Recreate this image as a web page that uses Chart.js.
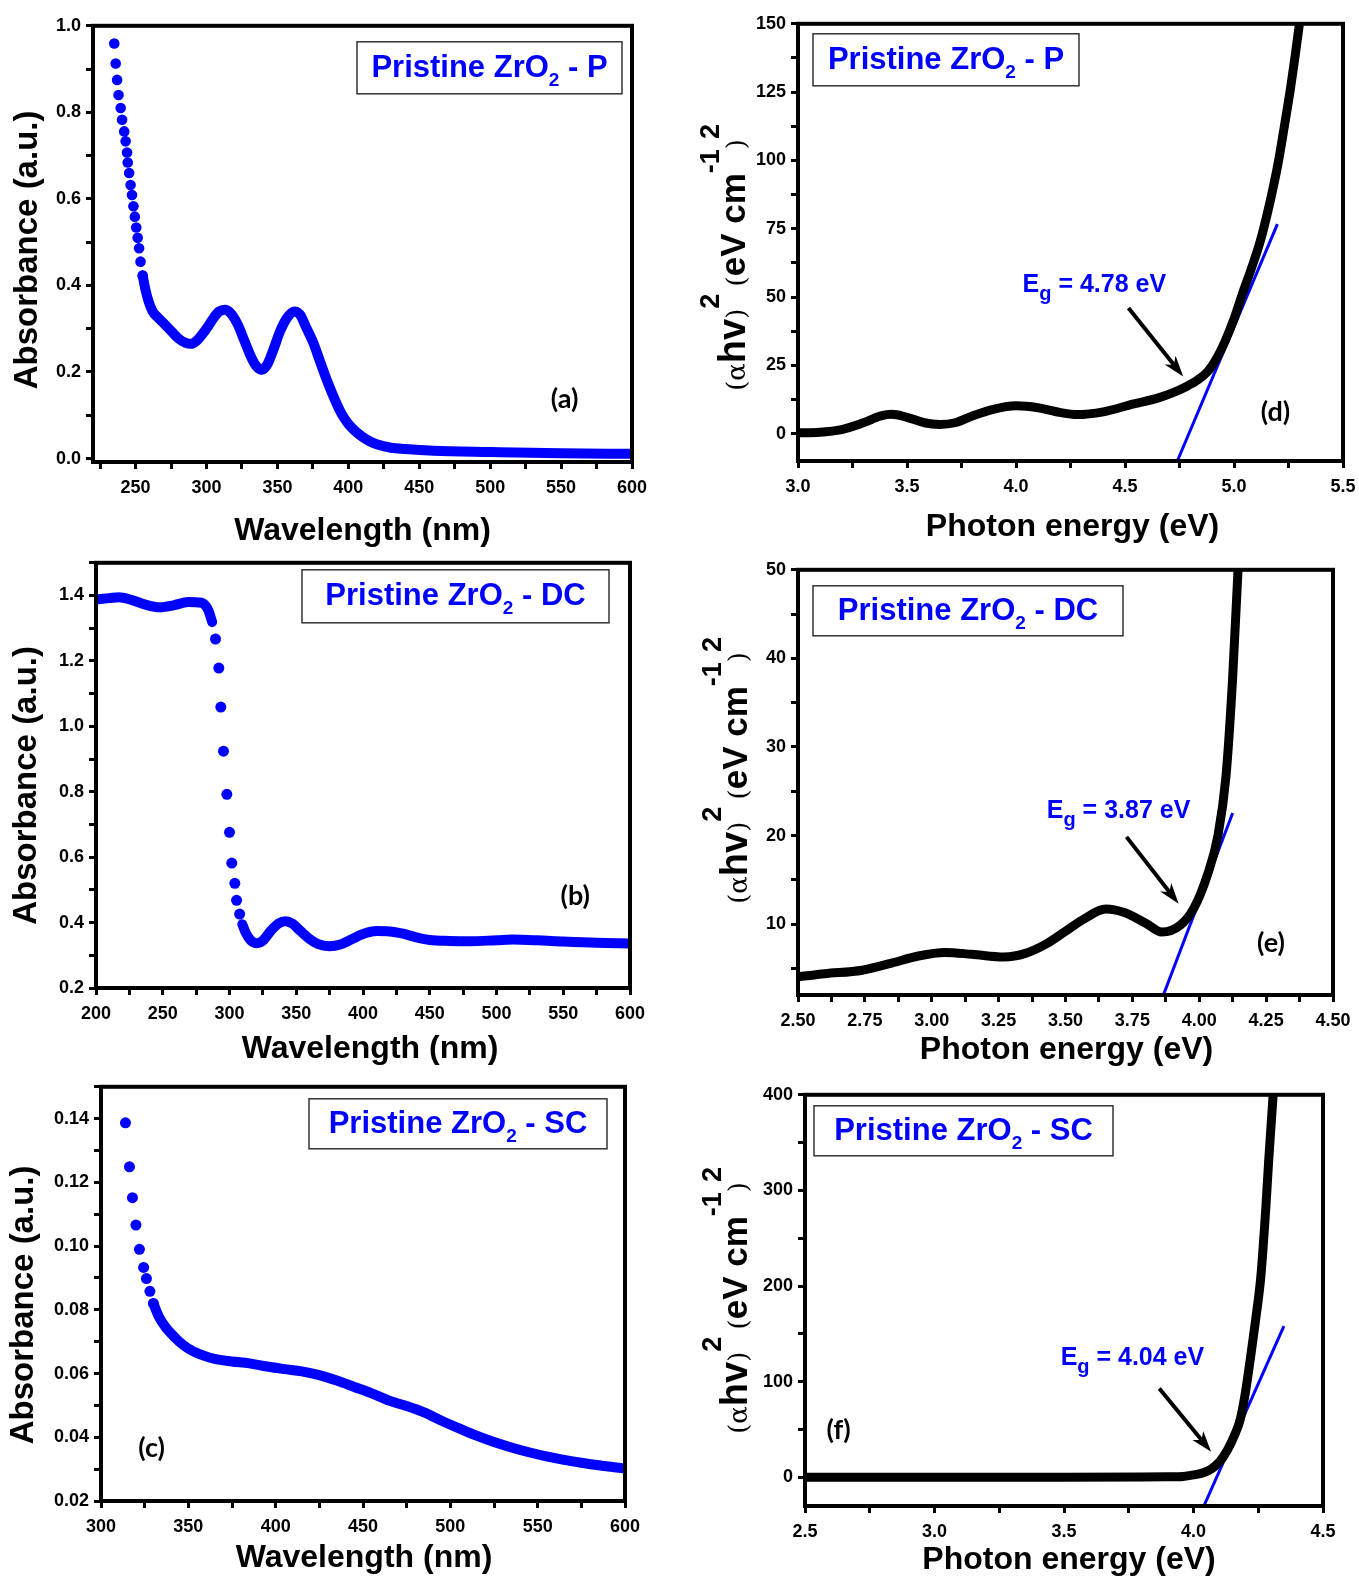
<!DOCTYPE html>
<html>
<head>
<meta charset="utf-8">
<title>Pristine ZrO2 - UV-Vis absorbance and Tauc plots</title>
<script src="https://cdn.jsdelivr.net/npm/chart.js@4.4.1/dist/chart.umd.min.js"></script>
<style>
  html, body { margin: 0; padding: 0; background: #fff; overflow: hidden; }
  body { position: relative; width: 1359px; height: 1579px; }
  canvas { position: absolute; }
</style>
</head>
<body>
<canvas id="cA"></canvas>
<canvas id="cD"></canvas>
<canvas id="cB"></canvas>
<canvas id="cE"></canvas>
<canvas id="cC"></canvas>
<canvas id="cF"></canvas>
<script>
const BLUE = '#0000ff';
const FONT = '"Liberation Sans", Arial, sans-serif';

// ---- (a) P sample, absorbance vs wavelength ----
const wlP_dots  = [235, 236, 237, 238, 239.5, 240.5, 242, 243, 244, 244.5, 245.5, 246.5, 247.5, 248.5, 249.5, 250.5, 251.5, 252.5, 253.5, 255];
const absP_dots = [0.959, 0.913, 0.875, 0.840, 0.810, 0.783, 0.756, 0.733, 0.707, 0.684, 0.660, 0.632, 0.609, 0.583, 0.559, 0.534, 0.510, 0.486, 0.455, 0.423];
const wlP  = [255, 257, 259, 262, 266, 270, 275, 280, 285, 289, 293, 297, 301, 305, 309, 313, 317, 322, 327, 331,
              335, 339, 343, 347, 352, 357, 362, 366, 370, 375, 380, 385, 390, 395, 400, 405, 410, 415, 420, 430,
              440, 460, 500, 550, 600];
const absP = [0.423, 0.390, 0.365, 0.340, 0.325, 0.312, 0.295, 0.278, 0.268, 0.265, 0.272, 0.287, 0.305, 0.325, 0.340, 0.344, 0.336, 0.310, 0.270, 0.238,
              0.214, 0.205, 0.218, 0.250, 0.295, 0.326, 0.340, 0.332, 0.305, 0.270, 0.225, 0.180, 0.140, 0.105, 0.080, 0.063, 0.050, 0.040, 0.033, 0.025,
              0.022, 0.018, 0.015, 0.012, 0.011];

// ---- (b) DC sample ----
const wlDC_top  = [200, 210, 217, 227, 237, 248, 258, 269, 279, 284, 287];
const absDC_top = [1.388, 1.392, 1.395, 1.386, 1.372, 1.364, 1.370, 1.380, 1.378, 1.356, 1.319];
const wlDC_dots  = [289.5, 292, 293.5, 295.5, 298, 300, 301.7, 304, 305.3, 307.6];
const absDC_dots = [1.267, 1.178, 1.059, 0.924, 0.792, 0.676, 0.582, 0.520, 0.468, 0.426];
const wlDC  = [309.6, 312, 316, 320, 325, 331, 337, 342, 347, 353, 360, 366, 375, 383, 392, 400, 410, 420, 430, 440,
               450, 465, 480, 500, 512, 530, 550, 575, 600];
const absDC = [0.395, 0.370, 0.345, 0.337, 0.345, 0.375, 0.398, 0.404, 0.397, 0.375, 0.350, 0.335, 0.328, 0.333, 0.350, 0.365, 0.374, 0.373, 0.366, 0.355,
               0.347, 0.344, 0.343, 0.346, 0.348, 0.346, 0.342, 0.338, 0.336];

// ---- (c) SC sample ----
const wlSC_dots  = [314, 316.3, 318, 320, 322, 324.4, 326, 328, 330];
const absSC_dots = [0.1387, 0.1249, 0.1152, 0.1066, 0.0990, 0.0933, 0.0898, 0.0858, 0.0820];
const wlSC  = [330, 333, 337, 342, 347, 352, 358, 365, 375, 385, 395, 405, 415, 425, 435, 445, 455, 465, 475, 485,
               495, 505, 515, 525, 535, 545, 555, 565, 575, 585, 600];
const absSC = [0.0820, 0.0780, 0.0745, 0.0715, 0.0690, 0.0672, 0.0658, 0.0646, 0.0638, 0.0632, 0.0622, 0.0614, 0.0607, 0.0595, 0.0578, 0.0558, 0.0538, 0.0515, 0.0498, 0.0478,
               0.0452, 0.0428, 0.0405, 0.0385, 0.0368, 0.0353, 0.0340, 0.0329, 0.0320, 0.0312, 0.0302];

// ---- Tauc plots (alpha h nu)^2 vs photon energy ----
const eP = [3.0, 3.1, 3.2, 3.3, 3.38, 3.43, 3.5, 3.58, 3.65, 3.72, 3.8, 3.9, 4.0, 4.1, 4.2, 4.28, 4.4, 4.54, 4.65, 4.72,
            4.78, 4.83, 4.88, 4.92, 4.96, 5.0, 5.04, 5.08, 5.12, 5.16, 5.2, 5.23, 5.26, 5.28, 5.3, 5.31];
const tP = [0.3, 0.5, 1.5, 4.0, 6.5, 7.1, 6.0, 4.0, 3.4, 4.0, 6.5, 9.0, 10.2, 9.5, 7.8, 7.0, 8.0, 10.9, 13.0, 15.0,
            17.2, 19.5, 22.8, 27.5, 34.0, 42.0, 51.5, 60.5, 70.3, 83.0, 98.0, 112.0, 126.8, 138.0, 150.0, 156.0];
const fitP_x = [4.74, 5.199];
const fitP_y = [-10, 76.7];

const eDC = [2.5, 2.6, 2.74, 2.85, 2.95, 3.05, 3.15, 3.27, 3.35, 3.43, 3.5, 3.57, 3.65, 3.72, 3.8, 3.86, 3.93, 3.98, 4.03, 4.07,
             4.1, 4.125, 4.145, 4.155];
const tDC = [4.05, 4.4, 4.8, 5.6, 6.4, 6.8, 6.6, 6.3, 6.7, 7.8, 9.2, 10.6, 11.7, 11.3, 10.1, 9.1, 9.9, 11.8, 15.5, 20.0,
             26.7, 37.9, 50.0, 55.0];
const fitDC_x = [3.866, 4.125];
const fitDC_y = [2, 22.55];

const eSC = [2.5, 3.0, 3.5, 3.8, 3.9, 3.96, 4.0, 4.04, 4.07, 4.1, 4.13, 4.16, 4.18, 4.2, 4.22, 4.24, 4.26, 4.28, 4.29, 4.3, 4.31];
const tSC = [0, 0, 0, 0.2, 0.5, 0.9, 2.5, 5, 9, 16, 28, 45, 60, 88, 125, 165, 210, 285, 330, 370, 410];
const fitSC_x = [4.04, 4.349];
const fitSC_y = [-30, 158];

// band gap labels
const egP = '4.78', egDC = '3.87', egSC = '4.04';

// ---- tick positions and labelled ticks ----
const ticksA_x = [225, 250, 275, 300, 325, 350, 375, 400, 425, 450, 475, 500, 525, 550, 575, 600];
const labsA_x  = [250, 300, 350, 400, 450, 500, 550, 600];
const ticksA_y = [0, 0.1, 0.2, 0.3, 0.4, 0.5, 0.6, 0.7, 0.8, 0.9, 1.0];
const labsA_y  = [0, 0.2, 0.4, 0.6, 0.8, 1.0];

const ticksB_x = [200, 225, 250, 275, 300, 325, 350, 375, 400, 425, 450, 475, 500, 525, 550, 575, 600];
const labsB_x  = [200, 250, 300, 350, 400, 450, 500, 550, 600];
const ticksB_y = [0.2, 0.3, 0.4, 0.5, 0.6, 0.7, 0.8, 0.9, 1.0, 1.1, 1.2, 1.3, 1.4, 1.5];
const labsB_y  = [0.2, 0.4, 0.6, 0.8, 1.0, 1.2, 1.4];

const ticksC_x = [300, 325, 350, 375, 400, 425, 450, 475, 500, 525, 550, 575, 600];
const labsC_x  = [300, 350, 400, 450, 500, 550, 600];
const ticksC_y = [0.02, 0.03, 0.04, 0.05, 0.06, 0.07, 0.08, 0.09, 0.10, 0.11, 0.12, 0.13, 0.14, 0.15];
const labsC_y  = [0.02, 0.04, 0.06, 0.08, 0.10, 0.12, 0.14];

const ticksD_x = [3.0, 3.25, 3.5, 3.75, 4.0, 4.25, 4.5, 4.75, 5.0, 5.25, 5.5];
const labsD_x  = [3.0, 3.5, 4.0, 4.5, 5.0, 5.5];
const ticksD_y = [0, 12.5, 25, 37.5, 50, 62.5, 75, 87.5, 100, 112.5, 125, 137.5, 150];
const labsD_y  = [0, 25, 50, 75, 100, 125, 150];

const ticksE_x = [2.5, 2.625, 2.75, 2.875, 3.0, 3.125, 3.25, 3.375, 3.5, 3.625, 3.75, 3.875, 4.0, 4.125, 4.25, 4.375, 4.5];
const labsE_x  = [2.5, 2.75, 3.0, 3.25, 3.5, 3.75, 4.0, 4.25, 4.5];
const ticksE_y = [5, 10, 15, 20, 25, 30, 35, 40, 45, 50];
const labsE_y  = [10, 20, 30, 40, 50];

const ticksF_x = [2.5, 2.75, 3.0, 3.25, 3.5, 3.75, 4.0, 4.25, 4.5];
const labsF_x  = [2.5, 3.0, 3.5, 4.0, 4.5];
const ticksF_y = [0, 50, 100, 150, 200, 250, 300, 350, 400];
const labsF_y  = [0, 100, 200, 300, 400];

// ---- helpers ----
const PAD_L = 110, PAD_T = 12, PAD_R = 30, PAD_B = 92;
const Y_W = 60, X_H = 36;

function pts(xs, ys) {
  return xs.map((x, i) => ({ x: x, y: ys[i] }));
}
function dots(xs, ys, r) {
  return { data: pts(xs, ys), showLine: false, pointRadius: r, pointHoverRadius: r,
           pointBackgroundColor: BLUE, pointBorderWidth: 0, clip: 0 };
}
function band(xs, ys, color, w) {
  return { data: pts(xs, ys), showLine: true, borderColor: color, borderWidth: w, pointRadius: 0,
           cubicInterpolationMode: 'monotone', borderCapStyle: 'round', borderJoinStyle: 'round', clip: 0 };
}
function fitLine(xs, ys) {
  return { data: pts(xs, ys), showLine: true, borderColor: BLUE, borderWidth: 3, pointRadius: 0, clip: 0 };
}

function axis(a, dir) {
  return {
    type: 'linear',
    min: a.min,
    max: a.max,
    afterBuildTicks: s => { s.ticks = a.ticks.map(v => ({ value: v })); },
    afterFit: s => { if (dir === 'x') s.height = X_H; else s.width = Y_W; },
    grid: { display: true, drawOnChartArea: false, drawTicks: true, tickLength: 7, tickWidth: 3, tickColor: '#000' },
    border: { display: false },
    ticks: {
      autoSkip: false, maxRotation: 0, minRotation: 0,
      padding: dir === 'x' ? 8 : 5,
      color: '#000',
      font: { family: FONT, size: 18, weight: 'bold' },
      callback: v => a.labels.some(m => Math.abs(m - v) < 1e-9) ? Number(v).toFixed(a.dec) : ''
    }
  };
}

function drawRich(ctx, parts, x, y) {
  for (const p of parts) {
    ctx.font = p.font;
    ctx.fillText(p.text, x, y + (p.dy || 0));
    x += ctx.measureText(p.text).width;
  }
}
function richWidth(ctx, parts) {
  let w = 0;
  for (const p of parts) { ctx.font = p.font; w += ctx.measureText(p.text).width; }
  return w;
}

function legendParts(tag) {
  return [
    { text: 'Pristine ZrO', font: 'bold 31px ' + FONT },
    { text: '2', font: 'bold 19px ' + FONT, dy: 9 },
    { text: ' - ' + tag, font: 'bold 31px ' + FONT }
  ];
}
function egParts(val) {
  return [
    { text: 'E', font: 'bold 25px ' + FONT },
    { text: 'g', font: 'bold 20px ' + FONT, dy: 8 },
    { text: ' = ' + val + ' eV', font: 'bold 25px ' + FONT }
  ];
}
const SYM = '26px "DejaVu Serif", "Liberation Serif", serif';
const SUP = 'bold 27px ' + FONT;
const taucTitle = [
  { text: '(\u03b1', font: SYM },
  { text: 'hv', font: 'bold 38px ' + FONT },
  { text: ')', font: SYM },
  { text: '2', font: SUP, dy: -26 },
  { text: ' ', font: 'bold 26px ' + FONT },
  { text: '(', font: SYM },
  { text: 'eV cm', font: 'bold 35px ' + FONT },
  { text: '-1', font: SUP, dy: -26 },
  { text: ')', font: SYM },
  { text: '2', font: SUP, dy: -26 }
];

// shaft plus notched head
function drawArrow(ctx, x1, y1, x2, y2) {
  const ang = Math.atan2(y2 - y1, x2 - x1);
  const c = Math.cos(ang), s = Math.sin(ang);
  const len = 21, half = 7, notch = 15;
  ctx.strokeStyle = '#000';
  ctx.lineWidth = 4;
  ctx.beginPath();
  ctx.moveTo(x1, y1);
  ctx.lineTo(x2 - notch * c, y2 - notch * s);
  ctx.stroke();
  const bx = x2 - len * c, by = y2 - len * s;
  ctx.fillStyle = '#000';
  ctx.beginPath();
  ctx.moveTo(x2, y2);
  ctx.lineTo(bx + half * s, by - half * c);
  ctx.lineTo(x2 - notch * c, y2 - notch * s);
  ctx.lineTo(bx - half * s, by + half * c);
  ctx.closePath();
  ctx.fill();
}

// frame, inset legend box, labels, arrow, axis titles
const decor = {
  id: 'decor',
  afterDraw(chart, args, o) {
    const ctx = chart.ctx, ca = chart.chartArea;
    const sx = chart.scales.x, sy = chart.scales.y;
    ctx.save();

    ctx.strokeStyle = '#000';
    ctx.lineWidth = 4;
    ctx.strokeRect(ca.left, ca.top, ca.right - ca.left, ca.bottom - ca.top);

    // legend box
    const lg = o.legend;
    const bx = ca.left + lg.dx, by = ca.top + lg.dy;
    ctx.lineWidth = 1.5;
    ctx.strokeStyle = '#333';
    ctx.strokeRect(bx, by, lg.w, lg.h);
    const lp = legendParts(lg.tag);
    ctx.fillStyle = BLUE;
    ctx.textBaseline = 'alphabetic';
    ctx.textAlign = 'left';
    drawRich(ctx, lp, bx + (lg.w - richWidth(ctx, lp)) / 2, by + lg.h / 2 + 9);

    // panel letter
    ctx.fillStyle = '#000';
    ctx.font = 'bold 27px Lato, "Open Sans", sans-serif';
    ctx.textAlign = 'center';
    ctx.textBaseline = 'middle';
    ctx.fillText(o.letter.text, sx.getPixelForValue(o.letter.x), sy.getPixelForValue(o.letter.y));

    // band gap label and arrow
    if (o.eg) {
      ctx.fillStyle = BLUE;
      ctx.textAlign = 'left';
      ctx.textBaseline = 'alphabetic';
      drawRich(ctx, egParts(o.eg.val), sx.getPixelForValue(o.eg.x), sy.getPixelForValue(o.eg.y));
      const a = o.arrow;
      drawArrow(ctx, sx.getPixelForValue(a[0]), sy.getPixelForValue(a[1]),
                     sx.getPixelForValue(a[2]), sy.getPixelForValue(a[3]));
    }

    // x title
    ctx.fillStyle = '#000';
    ctx.font = 'bold 32px ' + FONT;
    ctx.textAlign = 'center';
    ctx.textBaseline = 'alphabetic';
    ctx.fillText(o.xtitle.text, (ca.left + ca.right) / 2 + o.xtitle.dx, ca.bottom + o.xtitle.dy);

    // y title
    const yt = o.ytitle;
    const cy = (ca.top + ca.bottom) / 2 + yt.dy;
    ctx.save();
    ctx.translate(ca.left + yt.dx, cy);
    ctx.rotate(-Math.PI / 2);
    if (yt.kind === 'abs') {
      ctx.font = 'bold 33px ' + FONT;
      ctx.textAlign = 'center';
      ctx.textBaseline = 'middle';
      ctx.fillText('Absorbance (a.u.)', 0, 0);
    } else {
      ctx.textAlign = 'left';
      ctx.textBaseline = 'alphabetic';
      drawRich(ctx, taucTitle, -richWidth(ctx, taucTitle) / 2, 0);
    }
    ctx.restore();

    ctx.restore();
  }
};

function makePanel(p) {
  const [l, t, r, b] = p.area;
  const cv = document.getElementById(p.id);
  cv.width = r - l + PAD_L + PAD_R;
  cv.height = b - t + PAD_T + PAD_B;
  cv.style.left = (l - PAD_L) + 'px';
  cv.style.top = (t - PAD_T) + 'px';
  return new Chart(cv, {
    type: 'scatter',
    data: { datasets: p.datasets },
    options: {
      responsive: false,
      animation: false,
      events: [],
      layout: { padding: { left: PAD_L - Y_W, top: PAD_T, right: PAD_R, bottom: PAD_B - X_H } },
      plugins: { legend: { display: false }, tooltip: { enabled: false }, decor: p.decor },
      scales: { x: axis(p.x, 'x'), y: axis(p.y, 'y') }
    },
    plugins: [decor]
  });
}

const panels = [
  {
    id: 'cA', area: [93, 22, 632, 462],
    x: { min: 220, max: 600, ticks: ticksA_x, labels: labsA_x, dec: 0 },
    y: { min: -0.008, max: 1.0, ticks: ticksA_y, labels: labsA_y, dec: 1 },
    datasets: [band(wlP, absP, BLUE, 10), dots(wlP_dots, absP_dots, 5.3)],
    decor: {
      legend: { dx: 264, dy: 16, w: 265, h: 52, tag: 'P' },
      letter: { text: '(a)', x: 552.5, y: 0.136 },
      xtitle: { text: 'Wavelength (nm)', dx: 0, dy: 78 },
      ytitle: { kind: 'abs', dx: -65, dy: 6 }
    }
  },
  {
    id: 'cD', area: [798, 20, 1343, 461],
    x: { min: 3.0, max: 5.5, ticks: ticksD_x, labels: labsD_x, dec: 1 },
    y: { min: -10, max: 150, ticks: ticksD_y, labels: labsD_y, dec: 0 },
    datasets: [band(eP, tP, '#000', 9), fitLine(fitP_x, fitP_y)],
    decor: {
      legend: { dx: 15, dy: 10, w: 266, h: 52, tag: 'P' },
      letter: { text: '(d)', x: 5.19, y: 7.7 },
      eg: { val: egP, x: 4.03, y: 52 },
      arrow: [4.516, 46, 4.767, 20.9],
      xtitle: { text: 'Photon energy (eV)', dx: 2, dy: 75 },
      ytitle: { kind: 'tauc', dx: -53, dy: 15 }
    }
  },
  {
    id: 'cB', area: [96, 559, 630, 988],
    x: { min: 200, max: 600, ticks: ticksB_x, labels: labsB_x, dec: 0 },
    y: { min: 0.2, max: 1.5, ticks: ticksB_y, labels: labsB_y, dec: 1 },
    datasets: [band(wlDC_top, absDC_top, BLUE, 10), band(wlDC, absDC, BLUE, 10), dots(wlDC_dots, absDC_dots, 5.5)],
    decor: {
      legend: { dx: 206, dy: 7, w: 307, h: 53, tag: 'DC' },
      letter: { text: '(b)', x: 559, y: 0.479 },
      xtitle: { text: 'Wavelength (nm)', dx: 7, dy: 70 },
      ytitle: { kind: 'abs', dx: -69, dy: 10 }
    }
  },
  {
    id: 'cE', area: [798, 566, 1333, 995],
    x: { min: 2.5, max: 4.5, ticks: ticksE_x, labels: labsE_x, dec: 2 },
    y: { min: 2, max: 50, ticks: ticksE_y, labels: labsE_y, dec: 0 },
    datasets: [band(eDC, tDC, '#000', 9), fitLine(fitDC_x, fitDC_y)],
    decor: {
      legend: { dx: 15, dy: 16, w: 310, h: 50, tag: 'DC' },
      letter: { text: '(e)', x: 4.268, y: 7.8 },
      eg: { val: egDC, x: 3.43, y: 22 },
      arrow: [3.728, 19.85, 3.923, 12.3],
      xtitle: { text: 'Photon energy (eV)', dx: 1, dy: 64 },
      ytitle: { kind: 'tauc', dx: -51, dy: -12 }
    }
  },
  {
    id: 'cC', area: [101, 1083, 625, 1501],
    x: { min: 300, max: 600, ticks: ticksC_x, labels: labsC_x, dec: 0 },
    y: { min: 0.02, max: 0.15, ticks: ticksC_y, labels: labsC_y, dec: 2 },
    datasets: [band(wlSC, absSC, BLUE, 10), dots(wlSC_dots, absSC_dots, 5.5)],
    decor: {
      legend: { dx: 208, dy: 12, w: 298, h: 50, tag: 'SC' },
      letter: { text: '(c)', x: 329, y: 0.0366 },
      xtitle: { text: 'Wavelength (nm)', dx: 1, dy: 66 },
      ytitle: { kind: 'abs', dx: -77, dy: 11 }
    }
  },
  {
    id: 'cF', area: [805, 1091, 1323, 1506],
    x: { min: 2.5, max: 4.5, ticks: ticksF_x, labels: labsF_x, dec: 1 },
    y: { min: -30, max: 400, ticks: ticksF_y, labels: labsF_y, dec: 0 },
    datasets: [band(eSC, tSC, '#000', 9), fitLine(fitSC_x, fitSC_y)],
    decor: {
      legend: { dx: 9, dy: 11, w: 299, h: 50, tag: 'SC' },
      letter: { text: '(f)', x: 2.63, y: 49.6 },
      eg: { val: egSC, x: 3.487, y: 117 },
      arrow: [3.868, 92.9, 4.068, 26.8],
      xtitle: { text: 'Photon energy (eV)', dx: 5, dy: 63 },
      ytitle: { kind: 'tauc', dx: -58, dy: 0 }
    }
  }
];

panels.forEach(makePanel);
</script>
</body>
</html>
